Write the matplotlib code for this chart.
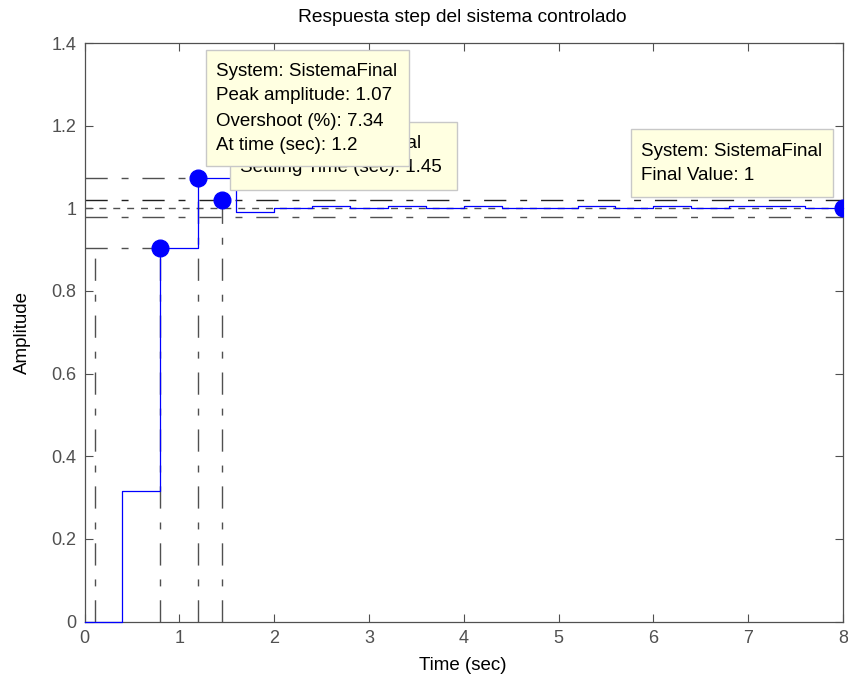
import numpy as np
import matplotlib
matplotlib.use("Agg")
import matplotlib.pyplot as plt
from matplotlib.patches import Rectangle

plt.rcParams['font.family'] = ['Liberation Sans', 'DejaVu Sans']
plt.rcParams['lines.scale_dashes'] = False

# discrete step response, Ts = 0.4 s
t = np.arange(0, 8.01, 0.4)
y = [0, 0.317, 0.905, 1.073, 0.991, 1.000, 1.005, 1.000, 1.005, 1.000, 1.005,
     1.000, 1.000, 1.005, 1.000, 1.005, 1.000, 1.005, 1.005, 1.000, 1.000]

rise_t0, rise_t1, rise_y = 0.116, 0.8, 0.905
peak_t, peak_y = 1.2, 1.073
settle_t, settle_y = 1.45, 1.02
band = [0.98, 1.02]
final_t, final_y = 8.0, 1.0

title = "Respuesta step del sistema controlado"
xticks = list(range(0, 9))
yticks = [0, 0.2, 0.4, 0.6, 0.8, 1.0, 1.2, 1.4]
ytick_labels = ["0", "0.2", "0.4", "0.6", "0.8", "1", "1.2", "1.4"]

peak_tip = ["System: SistemaFinal", "Peak amplitude: 1.07", "Overshoot (%): 7.34", "At time (sec): 1.2"]
settle_tip = ["System: SistemaFinal", "Settling Time (sec): 1.45"]
final_tip = ["System: SistemaFinal", "Final Value: 1"]

W, H = 848, 681
fig = plt.figure(figsize=(W / 100, H / 100), dpi=100)
L, R, B, T = 84.5, 843, 621.5, 43
ax = fig.add_axes([L / W, 1 - B / H, (R - L) / W, (B - T) / H])

gray = '#505050'
dashdot = (0, (16, 10, 5, 10))
shortdash = (0, (5, 5))

# characteristic lines
ax.plot([rise_t0, rise_t0], [0, rise_y], color=gray, lw=1, ls=dashdot, zorder=1)
ax.plot([rise_t1, rise_t1], [0, rise_y], color=gray, lw=1, ls=dashdot, zorder=1)
ax.plot([0, rise_t1], [rise_y, rise_y], color=gray, lw=1, ls=dashdot, zorder=1)
ax.plot([peak_t, peak_t], [0, peak_y], color=gray, lw=1, ls=dashdot, zorder=1)
ax.plot([0, peak_t], [peak_y, peak_y], color=gray, lw=1, ls=dashdot, zorder=1)
ax.plot([settle_t, settle_t], [0, settle_y], color=gray, lw=1, ls=dashdot, zorder=1)
ax.plot([0, 8], [band[1], band[1]], color='#202020', lw=1, ls=dashdot, zorder=1)
ax.plot([0, 8], [band[0], band[0]], color=gray, lw=1, ls=dashdot, zorder=1)
ax.plot([0, 8], [final_y, final_y], color=gray, lw=1, ls=shortdash, zorder=1)

# response
ax.plot(t, y, drawstyle='steps-post', color='#0000ff', lw=0.9, zorder=2.6, clip_on=False)
ax.plot([rise_t1, peak_t, settle_t, final_t], [rise_y, peak_y, settle_y, final_y],
        'o', color='#0000ff', ms=12, zorder=3)

ax.set_xlim(0, 8)
ax.set_ylim(0, 1.4)
ax.set_xticks(xticks)
ax.set_yticks(yticks)
ax.set_yticklabels(ytick_labels)
ax.tick_params(direction='in', length=6, width=0.8, colors=gray, labelsize=13,
               top=True, right=True, pad=6)
for s in ax.spines.values():
    s.set_color(gray)
    s.set_linewidth(0.9)

ax.set_xlabel("Time (sec)", fontsize=13.5)
ax.set_ylabel("Amplitude", fontsize=13.5)
ax.xaxis.set_label_coords(0.499, -0.061)
ax.yaxis.set_label_coords(-0.071, 0.5)
fig.text(462 / W, 1 - 17 / H, title, ha='center', va='center', fontsize=13.8)


def tip(x0, x1, y0, y1, tx, lines, ys, z):
    # box in pixel coords converted to data coords
    d = lambda px, py: ((px - L) / (R - L) * 8, (B - py) / (B - T) * 1.4)
    a, b = d(x0, y1)
    c, e = d(x1, y0)
    ax.add_patch(Rectangle((a, b), c - a, e - b, facecolor='#ffffe1', edgecolor='#c8c8c8',
                           lw=1, zorder=z, clip_on=False))
    for line, py in zip(lines, ys):
        px, pyd = d(tx, py)
        ax.text(px, pyd, line, ha='left', va='center', fontsize=13.5, color='black',
                zorder=z + 0.1, clip_on=False)


tip(230, 457, 122, 190, 240, settle_tip, [143, 168], 4)
tip(206, 409, 50, 166, 216, peak_tip, [71, 96, 121, 146], 5)
tip(631, 833, 129, 197, 641, final_tip, [152, 175], 5)

fig.savefig("out.png", dpi=100)
